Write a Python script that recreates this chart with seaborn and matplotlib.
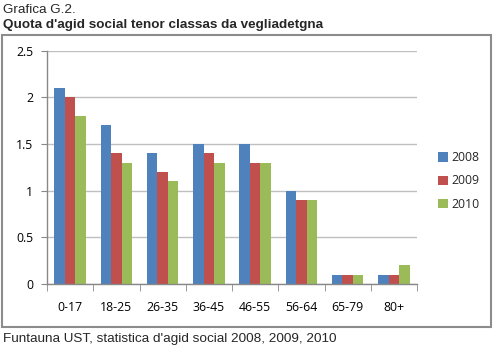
import matplotlib
matplotlib.use("Agg")
import matplotlib.pyplot as plt
import matplotlib.patches as patches
from matplotlib.ticker import FixedLocator
import seaborn as sns
import pandas as pd
import numpy as np

categories = ["0-17", "18-25", "26-35", "36-45", "46-55", "56-64", "65-79", "80+"]
years = ["2008", "2009", "2010"]
v2008 = [2.1, 1.7, 1.4, 1.5, 1.5, 1.0, 0.1, 0.1]
v2009 = [2.0, 1.4, 1.2, 1.4, 1.3, 0.9, 0.1, 0.1]
v2010 = [1.8, 1.3, 1.1, 1.3, 1.3, 0.9, 0.1, 0.2]
colors = ["#4F81BD", "#C0504D", "#9BBB59"]

rows = []
for yr, vals in zip(years, [v2008, v2009, v2010]):
    for c, v in zip(categories, vals):
        rows.append({"cat": c, "year": yr, "val": v})
df = pd.DataFrame(rows)

sns.set_style("white")
plt.rcParams["font.family"] = ["Liberation Sans", "DejaVu Sans"]

W, H = 500, 352
fig = plt.figure(figsize=(W / 100, H / 100), dpi=100)
ax = fig.add_axes([47 / W, (H - 284) / H, (417 - 47) / W, (284 - 50.7) / H])

sns.barplot(data=df, x="cat", y="val", hue="year", palette=colors, width=0.68,
            saturation=1, ax=ax, legend=True, edgecolor="none")

ax.set_ylim(0, 2.5)
ax.set_xlim(-0.5, len(categories) - 0.5)
ax.set_yticks([0, 0.5, 1, 1.5, 2, 2.5])
ax.set_yticklabels(["0", "0.5", "1", "1.5", "2", "2.5"])
ax.yaxis.grid(True, color="#BFBFBF", lw=1)
ax.set_axisbelow(True)
ax.set_xlabel("")
ax.set_ylabel("")
for s in ["top", "right"]:
    ax.spines[s].set_visible(False)
for s in ["left", "bottom"]:
    ax.spines[s].set_color("#888888")
    ax.spines[s].set_linewidth(1)

ax.xaxis.set_minor_locator(FixedLocator(np.arange(-0.5, len(categories), 1)))
ax.tick_params(axis="x", which="major", length=0, pad=12, labelsize=8.8, colors="#000000")
ax.tick_params(axis="x", which="minor", length=5, color="#888888", direction="out", bottom=True)
ax.tick_params(axis="y", length=4, color="#888888", direction="out", left=True, pad=6,
               labelsize=8.8, labelcolor="#000000")
for lbl in ax.get_xticklabels() + ax.get_yticklabels():
    lbl.set_family(["Open Sans", "DejaVu Sans"])

leg = ax.legend(loc="center left", bbox_to_anchor=(433 / W, (H - 181) / H),
                bbox_transform=fig.transFigure, frameon=False, fontsize=8.8,
                handlelength=0.8, handleheight=0.8, handletextpad=0.3,
                labelspacing=0.85, borderaxespad=0)
for t in leg.get_texts():
    t.set_family(["Open Sans", "DejaVu Sans"])

fig.patches.append(patches.Rectangle((2 / W, (H - 327) / H), (491 - 2) / W, (327 - 35) / H,
                                     transform=fig.transFigure, fill=False,
                                     edgecolor="#8C8C8C", lw=1.5))

fig.text(3 / W, 1 - 10 / H, "Grafica G.2.", fontsize=9.7, va="center", ha="left")
fig.text(3 / W, 1 - 25 / H, "Quota d'agid social tenor classas da vegliadetgna",
         fontsize=9.7, fontweight="bold", va="center", ha="left")
fig.text(3 / W, 1 - 339 / H, "Funtauna UST, statistica d'agid social 2008, 2009, 2010",
         fontsize=9.7, va="center", ha="left")

fig.savefig("out.png", dpi=100)
